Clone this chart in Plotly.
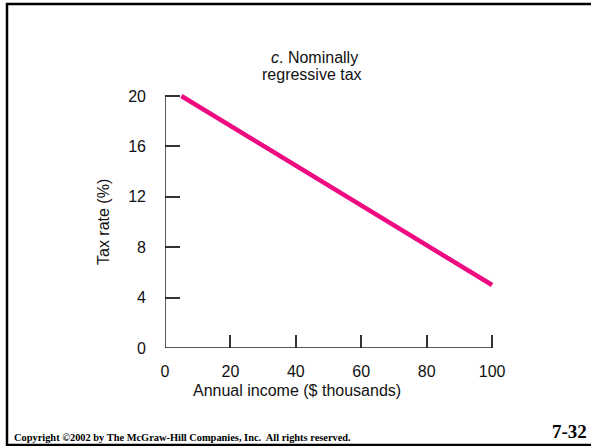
import plotly.graph_objects as go

# Nominally regressive tax: rate falls as income rises
income = [5, 100]          # annual income, $ thousands
tax_rate = [20, 5]         # tax rate, %
x_ticks = [0, 20, 40, 60, 80, 100]
y_ticks = [0, 4, 8, 12, 16, 20]

W, H = 591, 446
L, R, T, B = 165, 94, 91, 98
PW, PH = W - L - R, H - T - B


def px(xp):
    """pixel column -> paper x"""
    return (xp - L) / PW


def py(yp):
    """pixel row -> paper y"""
    return (H - B - yp) / PH


SANS = "Liberation Sans, Arial, sans-serif"
SERIF = "Liberation Serif, Times New Roman, serif"

fig = go.Figure()
fig.add_trace(go.Scatter(
    x=income, y=tax_rate, mode="lines",
    line=dict(color="#EE0A80", width=4.5),
    hoverinfo="skip", showlegend=False,
))

axis_common = dict(
    showgrid=False, zeroline=False, showline=False,
    ticks="inside", tickcolor="#333", tickwidth=1.5,
    tickfont=dict(family=SANS, size=16, color="#111"),
)
fig.update_xaxes(range=[0, 101.5], tickvals=x_ticks, ticklen=13,
                 ticklabelstandoff=12, **axis_common)
fig.update_yaxes(range=[0, 20.4], tickvals=y_ticks, ticklen=15,
                 ticklabelstandoff=18, **axis_common)

# axis lines ending at the last tick
fig.add_shape(type="line", xref="x", yref="y", x0=0, y0=0, x1=x_ticks[-1], y1=0,
              line=dict(color="#222", width=1.5))
fig.add_shape(type="line", xref="x", yref="y", x0=0, y0=0, x1=0, y1=y_ticks[-1],
              line=dict(color="#222", width=1.5))

# slide frame
fig.add_shape(type="rect", xref="paper", yref="paper",
              x0=px(7), y0=py(445), x1=px(610), y1=py(4),
              line=dict(color="black", width=2.5), layer="below")

annos = [
    dict(text="<i>c</i>. Nominally", x=px(314), y=py(57), size=16, family=SANS),
    dict(text="regressive tax", x=px(312), y=py(74), size=16, family=SANS),
    dict(text="Annual income ($ thousands)", x=px(297), y=py(390), size=16, family=SANS),
]
for a in annos:
    fig.add_annotation(text=a["text"], x=a["x"], y=a["y"], xref="paper", yref="paper",
                       showarrow=False, xanchor="center", yanchor="middle",
                       font=dict(family=a["family"], size=a["size"], color="#111"))

fig.add_annotation(text="Tax rate (%)", x=px(103), y=py(222), xref="paper", yref="paper",
                   showarrow=False, textangle=-90, xanchor="center", yanchor="middle",
                   font=dict(family=SANS, size=16, color="#111"))

fig.add_annotation(text="<b>Copyright ©2002 by The McGraw-Hill Companies, Inc.  All rights reserved.</b>",
                   x=px(12), y=py(437), xref="paper", yref="paper", showarrow=False,
                   xanchor="left", yanchor="middle",
                   font=dict(family=SERIF, size=10.4, color="black"))
fig.add_annotation(text="<b>7-32</b>", x=px(589), y=py(431), xref="paper", yref="paper",
                   showarrow=False, xanchor="right", yanchor="middle",
                   font=dict(family=SERIF, size=19, color="black"))

fig.update_layout(
    width=W, height=H,
    margin=dict(l=L, r=R, t=T, b=B),
    paper_bgcolor="white", plot_bgcolor="white",
)

fig.write_html("out.html")
